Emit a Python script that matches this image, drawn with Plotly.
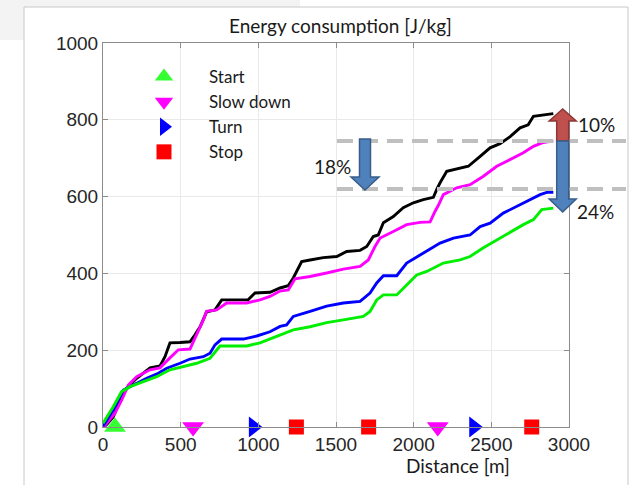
import plotly.graph_objects as go

# ---------------- data ----------------
black_x = [0, 20, 66, 110, 152, 217, 303, 367, 399, 431, 496, 560, 592, 625, 667, 721, 764, 934, 979, 1011,
           1075, 1140, 1192, 1225, 1279, 1333, 1418, 1505, 1569, 1655, 1698, 1740, 1772, 1805, 1869, 1933,
           1998, 2062, 2127, 2150, 2170, 2213, 2299, 2352, 2428, 2492, 2556, 2621, 2685, 2737, 2771, 2835, 2899]
black_y = [0, 5, 26, 70, 101, 127, 154, 159, 183, 219, 220, 222, 240, 261, 300, 305, 331, 331, 349, 350,
           351, 362, 368, 388, 431, 435, 441, 444, 457, 460, 470, 496, 500, 532, 548, 571,
           584, 592, 598, 620, 636, 666, 675, 679, 705, 727, 738, 756, 779, 787, 809, 813, 816]

magenta_x = [0, 10, 77, 120, 163, 217, 303, 367, 431, 485, 560, 603, 646, 667, 732, 796, 925, 1011, 1075,
             1140, 1193, 1236, 1333, 1440, 1547, 1655, 1708, 1751, 1784, 1869, 1955, 2041, 2106, 2138, 2160,
             2191, 2277, 2363, 2449, 2535, 2621, 2706, 2771, 2835, 2899]
magenta_y = [0, 3, 36, 70, 109, 131, 149, 154, 180, 201, 203, 240, 279, 301, 305, 323, 323, 331, 340,
             354, 357, 386, 392, 401, 411, 418, 435, 470, 492, 509, 527, 533, 534, 562, 578,
             605, 623, 631, 653, 679, 696, 714, 731, 741, 745]

blue_x = [0, 66, 131, 195, 281, 356, 410, 496, 560, 646, 689, 721, 764, 903, 990, 1075, 1140, 1182, 1225,
          1333, 1440, 1547, 1655, 1719, 1762, 1805, 1891, 1955, 2041, 2127, 2170, 2256, 2363, 2428, 2492,
          2577, 2663, 2750, 2814, 2857, 2899]
blue_y = [2, 44, 96, 109, 127, 140, 153, 166, 177, 183, 192, 214, 229, 229, 237, 248, 262, 266, 288,
          301, 315, 323, 327, 349, 375, 394, 394, 427, 448, 470, 479, 492, 500, 522, 531,
          557, 574, 592, 605, 611, 611]

green_x = [0, 66, 120, 174, 260, 346, 431, 517, 603, 689, 721, 753, 925, 1011, 1097, 1225, 1333, 1440,
           1547, 1676, 1719, 1762, 1805, 1891, 1955, 2020, 2084, 2170, 2191, 2299, 2363, 2449, 2535, 2621,
           2706, 2771, 2825, 2899]
green_y = [10, 53, 92, 105, 118, 131, 149, 157, 166, 179, 196, 211, 211, 219, 233, 253, 261, 272,
           279, 288, 301, 331, 344, 344, 370, 396, 405, 422, 427, 435, 444, 467, 487, 509,
           527, 540, 566, 570]

start_x = [77]
slow_x = [580, 2155]
turn_x = [968, 2387]
stop_x = [1245, 1710, 2760]

ref_levels = [745, 620]          # dashed reference lines
x_ticks = [0, 500, 1000, 1500, 2000, 2500, 3000]
y_ticks = [0, 200, 400, 600, 800, 1000]

# ---------------- geometry ----------------
W, H = 636, 485
L, R, T, B = 103, 67, 43, 58
PW, PH = W - L - R, H - T - B


def px(x):
    return (x - L) / PW


def py(y):
    return (H - B - y) / PH


def block_arrow(cx, y_tail, y_tip, shaft_w, head_w, head_len):
    d = 1 if y_tip > y_tail else -1
    y_base = y_tip - d * head_len
    pts = [(cx - shaft_w / 2, y_tail), (cx + shaft_w / 2, y_tail), (cx + shaft_w / 2, y_base),
           (cx + head_w / 2, y_base), (cx, y_tip), (cx - head_w / 2, y_base), (cx - shaft_w / 2, y_base)]
    return "M " + " L ".join(f"{px(a):.5f},{py(b):.5f}" for a, b in pts) + " Z"


TEXT_FONT = "Lato"
TICK_FONT = "Liberation Sans"

fig = go.Figure()

for xs, ys, col in [(black_x, black_y, "#000000"), (magenta_x, magenta_y, "#ff00ff"),
                    (blue_x, blue_y, "#0000ff"), (green_x, green_y, "#00ee00")]:
    fig.add_trace(go.Scatter(x=xs, y=ys, mode="lines", line=dict(color=col, width=2.9),
                             showlegend=False, hoverinfo="skip"))

events = [("Start", start_x, "triangle-up", "#33ff33", 19),
          ("Slow down", slow_x, "triangle-down", "#ff00ff", 19),
          ("Turn", turn_x, "triangle-right", "#0000ff", 18),
          ("Stop", stop_x, "square", "#ff0000", 15)]
for name, xs, sym, col, sz in events:
    fig.add_trace(go.Scatter(x=xs, y=[0] * len(xs), mode="markers", name=name,
                             marker=dict(symbol=sym, color=col, size=sz, line=dict(width=0)),
                             cliponaxis=False))

shapes = []
# light background corner
shapes.append(dict(type="rect", xref="paper", yref="paper", x0=px(0), x1=px(24), y0=py(40), y1=py(0),
                   fillcolor="#f3f3f3", line=dict(width=0), layer="below"))
shapes.append(dict(type="rect", xref="paper", yref="paper", x0=px(0), x1=px(300), y0=py(7), y1=py(0),
                   fillcolor="#f3f3f3", line=dict(width=0), layer="below"))
# outer frame
shapes.append(dict(type="rect", xref="paper", yref="paper", x0=px(24), x1=px(628), y0=py(490), y1=py(7),
                   fillcolor="rgba(0,0,0,0)", line=dict(color="#c8c8c8", width=1), layer="below"))
# dashed lines
for v in ref_levels:
    shapes.append(dict(type="line", xref="paper", yref="paper", x0=px(337), x1=px(626),
                       y0=v / 1000, y1=v / 1000, line=dict(color="#bfbfbf", width=4, dash="16px,9px")))
# arrows
shapes.append(dict(type="path", xref="paper", yref="paper", path=block_arrow(365, 139, 190, 11, 28, 13),
                   fillcolor="#4f81bd", line=dict(color="#385d8a", width=1.5)))
shapes.append(dict(type="path", xref="paper", yref="paper", path=block_arrow(562.7, 141, 109, 12, 27, 12),
                   fillcolor="#c0504d", line=dict(color="#8c3836", width=1.5)))
shapes.append(dict(type="path", xref="paper", yref="paper", path=block_arrow(562.7, 141, 212, 12, 27, 13),
                   fillcolor="#4f81bd", line=dict(color="#385d8a", width=1.5)))

tf = dict(family=TEXT_FONT, size=19, color="#1a1a1a")
annotations = [
    dict(text="Energy consumption [J/kg]", xref="paper", yref="paper", x=px(340), y=py(25),
         xanchor="center", yanchor="middle", showarrow=False, font=tf),
    dict(text="Distance [m]", xref="paper", yref="paper", x=px(458), y=py(465),
         xanchor="center", yanchor="middle", showarrow=False, font=tf),
    dict(text="10%", xref="paper", yref="paper", x=px(576), y=py(125),
         xanchor="left", yanchor="middle", showarrow=False, font=tf),
    dict(text="24%", xref="paper", yref="paper", x=px(575), y=py(211),
         xanchor="left", yanchor="middle", showarrow=False, font=tf),
    dict(text="18%", xref="paper", yref="paper", x=px(353), y=py(166),
         xanchor="right", yanchor="middle", showarrow=False, font=tf),
]

axis_common = dict(showline=True, linecolor="#8c8c8c", linewidth=1, mirror="ticks", ticks="inside",
                   ticklen=5, tickcolor="#8c8c8c", showgrid=True, gridcolor="#e9e9e9", gridwidth=1,
                   zeroline=False, tickfont=dict(family=TICK_FONT, size=19, color="#262626"))

fig.update_layout(
    width=W, height=H, margin=dict(l=L, r=R, t=T, b=B),
    paper_bgcolor="white", plot_bgcolor="white",
    xaxis=dict(range=[0, 3000], tickvals=x_ticks, **axis_common),
    yaxis=dict(range=[0, 1000], tickvals=y_ticks, **axis_common),
    legend=dict(x=px(119), y=py(59), xanchor="left", yanchor="top", bgcolor="rgba(0,0,0,0)",
                font=dict(family=TEXT_FONT, size=17, color="#1a1a1a"), itemwidth=80,
                tracegroupgap=0),
    shapes=shapes, annotations=annotations,
)

fig.write_html("out.html")
